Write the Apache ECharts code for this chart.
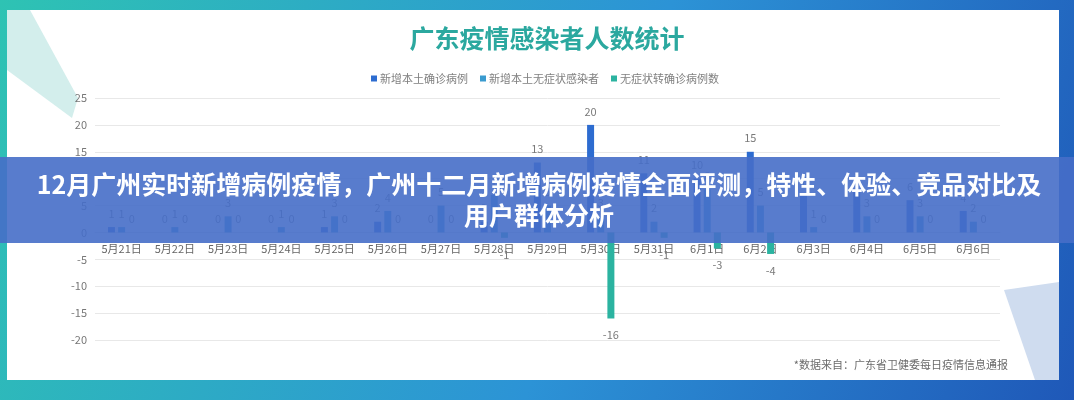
<!DOCTYPE html>
<html><head><meta charset="utf-8">
<style>html,body{margin:0;padding:0;background:#fff}#c{width:1074px;height:400px}</style>
<script src="https://cdn.jsdelivr.net/npm/echarts@6/dist/echarts.min.js"></script>
</head><body><div id="c"></div>
<script>
const categories = ['5月21日','5月22日','5月23日','5月24日','5月25日','5月26日','5月27日','5月28日','5月29日','5月30日','5月31日','6月1日','6月2日','6月3日','6月4日','6月5日','6月6日'];
const confirmed   = [1,0,0,0,1,2,0,2,13,20,11,10,15,7,8,6,4];
const asymptomatic= [1,1,3,1,3,4,5,7,5,3,2,8,5,1,3,3,2];
const converted   = [0,0,0,0,0,0,0,-1,0,-16,-1,-3,-4,0,0,0,0];
const seriesNames = ['新增本土确诊病例','新增本土无症状感染者','无症状转确诊病例数'];
const yTicks = {min:-20, max:25, interval:5};
const titleText = '广东疫情感染者人数统计';
const sourceText = '*数据来自：广东省卫健委每日疫情信息通报';
const bannerText = '12月广州实时新增病例疫情，广州十二月新增病例疫情全面评测，特性、体验、竞品对比及\n用户群体分析';

const colors = ['#2d6cd0','#3a9bcf','#2bb3a0'];
const font = '"Noto Sans CJK SC", "Noto Sans", sans-serif';
const gridTop = 98, gridBottomPx = 60, H = 400;
const plotH = H - gridTop - gridBottomPx;
const zeroOffset = -plotH * (0 - yTicks.min) / (yTicks.max - yTicks.min);
function mk(vals){
  return vals.map(v => ({value:v, label:{position: v<0?'bottom':'top', distance: v<0?11:8}}));
}
const chart = echarts.init(document.getElementById('c'));
chart.setOption({
  backgroundColor: new echarts.graphic.LinearGradient(0,0,1,1,[{offset:0,color:'#2ec3b3'},{offset:0.55,color:'#2c93d6'},{offset:1,color:'#1f58b8'}]),
  color: colors,
  textStyle:{fontFamily:font},
  legend:{
    data: seriesNames, left: 366, top: 68, icon:'rect', itemWidth:6, itemHeight:6, itemGap:12,
    textStyle:{fontSize:11, color:'#808080', fontFamily:font, padding:[0,0,0,-2]}
  },
  grid:{left:95, right:74, top:gridTop, bottom:gridBottomPx, containLabel:false},
  xAxis:{
    type:'category', data: categories, position:'bottom', offset: zeroOffset,
    axisLine:{onZero:false, lineStyle:{color:'#d9d9d9'}},
    axisTick:{show:false},
    axisLabel:{color:'#666', fontSize:11, margin:11, interval:0, fontFamily:font}
  },
  yAxis:{
    type:'value', min:yTicks.min, max:yTicks.max, interval:yTicks.interval,
    axisLine:{show:false}, axisTick:{show:false},
    axisLabel:{color:'#777', fontSize:11, margin:8, fontFamily:font},
    splitLine:{lineStyle:{color:'#e8e8e8'}}
  },
  series:[
    {name:seriesNames[0], type:'bar', data:mk(confirmed), barWidth:7, barGap:'45%', label:{show:true, color:'#7a7a7a', fontSize:11, fontFamily:font}},
    {name:seriesNames[1], type:'bar', data:mk(asymptomatic), barWidth:7, barGap:'45%', label:{show:true, color:'#7a7a7a', fontSize:11, fontFamily:font}},
    {name:seriesNames[2], type:'bar', data:mk(converted), barWidth:7, barGap:'45%', label:{show:true, color:'#7a7a7a', fontSize:11, fontFamily:font}}
  ],
  graphic:{elements:[
    {type:'rect', z:-10, shape:{x:7,y:10,width:1052,height:370}, style:{fill:'#ffffff'}, silent:true},
    {type:'polygon', z:-9, shape:{points:[[7,10],[30,10],[78,98],[72,118],[7,70]]}, style:{fill:'#d3eeec'}, silent:true},
    {type:'polygon', z:-9, shape:{points:[[1004,290],[1059,282],[1059,380],[1035,380]]}, style:{fill:'#cfdcef'}, silent:true},
    {type:'text', z:5, style:{text:titleText, x:547, y:38, align:'center', verticalAlign:'middle', fill:'#2ba89f', font:'bold 25px '+font}},
    {type:'text', z:5, style:{text:sourceText, x:1008, y:365, align:'right', verticalAlign:'middle', fill:'#6b6b6b', font:'11px '+font}},
    {type:'rect', z:50, shape:{x:0,y:157,width:1074,height:86}, style:{fill:'rgba(70,110,200,0.9)'}, silent:true},
    {type:'text', z:51, style:{text:bannerText, x:539, y:200, align:'center', verticalAlign:'middle', fill:'#ffffff', font:'bold 25px '+font, lineHeight:31}}
  ]}
});
</script></body></html>
